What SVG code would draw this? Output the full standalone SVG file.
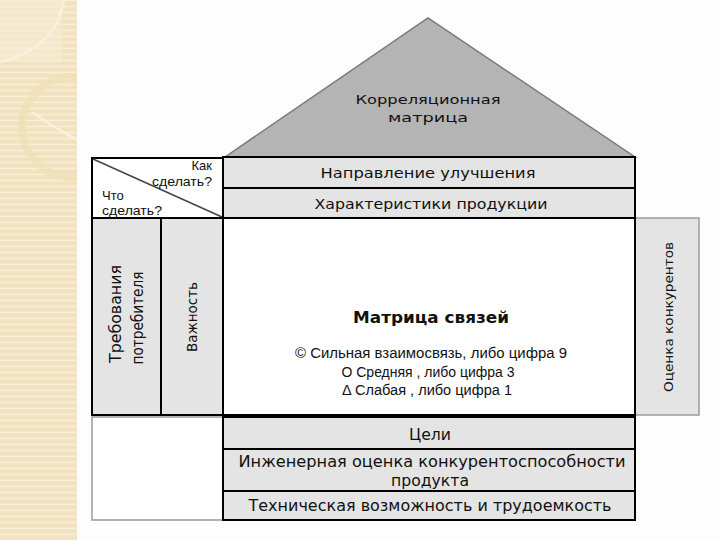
<svg xmlns="http://www.w3.org/2000/svg" width="720" height="540" viewBox="0 0 720 540">
<defs>
<pattern id="stripes" width="8" height="6" patternUnits="userSpaceOnUse">
<rect width="8" height="6" fill="#f3e4c4"/>
<rect y="0" width="8" height="1" fill="#f8eed9"/>
<rect y="3" width="8" height="1" fill="#efdfba"/>
</pattern>
<clipPath id="stripClip"><rect x="0" y="0" width="77" height="540"/></clipPath>
</defs>
<style>
.t{font-family:"DejaVu Sans",Verdana,sans-serif;fill:#111}
.a{font-family:"Liberation Sans",Arial,sans-serif;fill:#111}
.bar{fill:#e4e4e4;stroke:#000;stroke-width:2}
.col{fill:#e4e4e4;stroke:#000;stroke-width:2}
.box{fill:#fff;stroke:#000;stroke-width:2}
</style>
<rect width="720" height="540" fill="#fdfdfd"/>
<g id="decor" clip-path="url(#stripClip)">
<rect x="0" y="0" width="77" height="540" fill="url(#stripes)"/>
<rect x="0" y="0" width="62" height="62" fill="#f7ecd6" opacity="0.6"/>
<path d="M0,62 Q40,52 56,25 Q62,10 64,0" fill="none" stroke="#f9f1e0" stroke-width="2.5"/>
<circle cx="72" cy="127" r="50" fill="none" stroke="#eedfb6" stroke-width="8" opacity="0.7"/>
<path d="M32,112 Q52,126 77,140" fill="none" stroke="#f9f1e0" stroke-width="2.5"/>
</g>
<g id="roof">
<polygon points="225,157 428,18 635,157" fill="#b4b4b4" stroke="#7a7a7a" stroke-width="1.5"/>
<text class="t" font-size="13" x="428" y="104" text-anchor="middle" textLength="145" lengthAdjust="spacingAndGlyphs">Корреляционная</text>
<text class="t" font-size="13" x="428" y="122" text-anchor="middle" textLength="80" lengthAdjust="spacingAndGlyphs">матрица</text>
</g>
<g id="corner">
<rect class="box" x="92" y="158" width="131" height="60"/>
<line x1="93" y1="159" x2="222" y2="217" stroke="#444" stroke-width="1.5"/>
<text class="a" font-size="13" x="212" y="170" text-anchor="end">Как</text>
<text class="a" font-size="13" x="212" y="186" text-anchor="end" textLength="60" lengthAdjust="spacingAndGlyphs">сделать?</text>
<text class="a" font-size="13" x="102" y="200">Что</text>
<text class="a" font-size="13" x="102" y="215" textLength="60" lengthAdjust="spacingAndGlyphs">сделать?</text>
</g>
<g id="direction">
<rect class="bar" x="223" y="157" width="412" height="31"/>
<text class="t" font-size="14" x="428" y="178" text-anchor="middle" textLength="215" lengthAdjust="spacingAndGlyphs">Направление улучшения</text>
</g>
<g id="characteristics">
<rect class="bar" x="223" y="188" width="412" height="30"/>
<text class="t" font-size="14" x="431" y="209" text-anchor="middle" textLength="233" lengthAdjust="spacingAndGlyphs">Характеристики продукции</text>
</g>
<g id="requirements">
<rect class="col" x="92" y="218" width="69" height="197"/>
<text class="t" font-size="15" transform="translate(121,314) rotate(-90)" text-anchor="middle" textLength="98" lengthAdjust="spacingAndGlyphs">Требования</text>
<text class="t" font-size="15" transform="translate(143,318) rotate(-90)" text-anchor="middle" textLength="93" lengthAdjust="spacingAndGlyphs">потребителя</text>
</g>
<g id="importance">
<rect class="col" x="161" y="218" width="62" height="197" stroke-width="1.2"/>
<text class="t" font-size="14" transform="translate(197,317) rotate(-90)" text-anchor="middle" textLength="70" lengthAdjust="spacingAndGlyphs">Важность</text>
</g>
<g id="competitors">
<rect x="635" y="218" width="64" height="197" fill="#e4e4e4" stroke="#9a9a9a" stroke-width="1.5"/>
<text class="t" font-size="13" transform="translate(673,317) rotate(-90)" text-anchor="middle" textLength="150" lengthAdjust="spacingAndGlyphs">Оценка конкурентов</text>
</g>
<g id="matrix">
<rect class="box" x="223" y="218" width="412" height="197"/>
<text class="t" x="431" y="323" text-anchor="middle" font-size="15" font-weight="bold" textLength="156" lengthAdjust="spacingAndGlyphs">Матрица связей</text>
<text class="a" font-size="14" x="431" y="358" text-anchor="middle" textLength="272" lengthAdjust="spacingAndGlyphs">© Сильная  взаимосвязь,  либо цифра 9</text>
<text class="a" font-size="14" x="428" y="377" text-anchor="middle" textLength="173" lengthAdjust="spacingAndGlyphs">О Средняя , либо цифра 3</text>
<text class="a" font-size="14" x="427" y="395" text-anchor="middle" textLength="170" lengthAdjust="spacingAndGlyphs">Δ  Слабая , либо цифра 1</text>
</g>
<g id="bottom-left">
<rect x="92" y="417" width="131" height="103" fill="#fff" stroke="#9a9a9a" stroke-width="1.5"/>
</g>
<g id="goals">
<rect class="bar" x="223" y="417" width="412" height="32"/>
<text class="t" font-size="15" x="430" y="440" text-anchor="middle" textLength="42" lengthAdjust="spacingAndGlyphs">Цели</text>
</g>
<g id="engineering">
<rect class="bar" x="223" y="449" width="412" height="42"/>
<text class="t" font-size="15" x="432" y="467" text-anchor="middle" textLength="387" lengthAdjust="spacingAndGlyphs">Инженерная оценка конкурентоспособности</text>
<text class="t" font-size="15" x="430" y="486" text-anchor="middle" textLength="78" lengthAdjust="spacingAndGlyphs">продукта</text>
</g>
<g id="technical">
<rect class="bar" x="223" y="491" width="412" height="29"/>
<text class="t" font-size="15" x="430" y="511" text-anchor="middle" textLength="363" lengthAdjust="spacingAndGlyphs">Техническая возможность и трудоемкость</text>
</g>
<g id="connectors"></g>
</svg>
